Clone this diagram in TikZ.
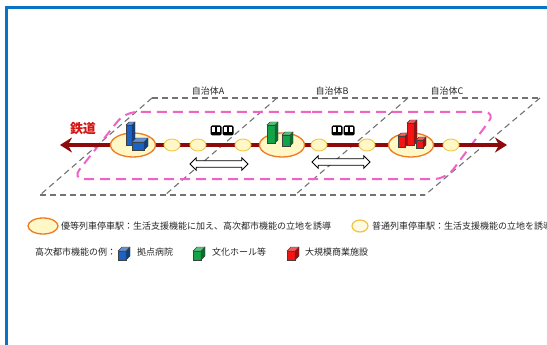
\documentclass[tikz,border=0pt]{standalone}
\usepackage{fontspec}
\newfontfamily\jpfont{Noto Sans CJK JP}
\usetikzlibrary{shapes.geometric,shapes.arrows,arrows.meta}
\definecolor{framblue}{HTML}{0A74C4}
\definecolor{zonepink}{HTML}{F062C8}
\definecolor{railred}{HTML}{8E0A0A}
\definecolor{tetsured}{HTML}{D41414}
\definecolor{storange}{HTML}{EE7A22}
\definecolor{styellow}{HTML}{F0C848}
\definecolor{stfill}{HTML}{FFF8C6}
\definecolor{bldblue}{HTML}{1A62C4}
\definecolor{bldgreen}{HTML}{12A548}
\definecolor{bldred}{HTML}{F51414}
\newcommand{\bldg}[6]{%
  \filldraw[draw=black!75, line width=.4pt, fill=#1] (#2,#3) rectangle ++(#4,-#5);
  \filldraw[draw=black!75, line width=.4pt, fill=#1!65!black] (#2+#4,#3) -- ++(#6,-#6) -- ++(0,-#5) -- ++(-#6,#6) -- cycle;
  \filldraw[draw=black!75, line width=.4pt, fill=#1!70!white] (#2,#3-#5) -- ++(#6,-#6) -- ++(#4,0) -- ++(-#6,#6) -- cycle;
}
\tikzset{
  densha/.pic={
    \foreach \dx in {-6,6}{
      \fill[black, rounded corners=1.5pt] (\dx-5.5,-5.5) rectangle (\dx+5.5,4.5);
      \fill[white] (\dx-4,-3.5) rectangle (\dx-0.6,0.8);
      \fill[white] (\dx+0.6,-3.5) rectangle (\dx+4,0.8);
    }
  }
}
\begin{document}
\begin{tikzpicture}[x=1pt,y=-1pt,
  lbl/.style={font=\jpfont\fontsize{9}{10}\selectfont, text=black!85, inner sep=0pt},
  grid/.style={draw=black!55, line width=1.1pt, dash pattern=on 6pt off 4pt},
  zone/.style={draw=zonepink, line width=2pt, dash pattern=on 10pt off 6pt, rounded corners=12pt},
  rail/.style={draw=railred, line width=3.2pt, {Stealth[length=12pt,width=15pt,inset=4pt]}-{Stealth[length=12pt,width=15pt,inset=4pt]}},
  majorst/.style={ellipse, draw=storange, line width=1.3pt, fill=stfill, minimum width=45pt, minimum height=24pt, inner sep=0pt},
  minorst/.style={ellipse, draw=styellow, line width=.9pt, fill=stfill, minimum width=16pt, minimum height=12pt, inner sep=0pt},
  dbl/.style={double arrow, draw=black, line width=.8pt, fill=white, inner xsep=0pt, inner ysep=2.8pt, minimum height=58pt, double arrow head extend=3pt}
]
\useasboundingbox (0,0) rectangle (547,345);
\clip (0,0) rectangle (547,345);
\draw[framblue, line width=3pt] (6.5,7.5) rectangle (600,400);

% municipalities
\draw[grid] (152,98) -- (540,98);
\draw[grid] (40,195) -- (425,195);
\foreach \t/\b in {152/40, 277/165, 408/295, 540/425}
  \draw[grid] (\t,98) -- (\b,195);
\node[lbl] (munA) at (208,91) {自治体A};
\node[lbl] (munB) at (332,91) {自治体B};
\node[lbl] (munC) at (447,91) {自治体C};

\draw[zone] (300,112) -- (496,112) -- (446,179) -- (72,179) -- (125,112) -- cycle;

% railway
\coordinate (railW) at (60,145);
\coordinate (railE) at (507,145);
\draw[rail] (railW) -- (railE);
\node[lbl, font=\jpfont\fontsize{13}{14}\selectfont\bfseries, text=tetsured] (tetsudo) at (83,129) {鉄道};

\node[majorst] (stA) at (133,145) {};
\node[majorst] (stB) at (282,145) {};
\node[majorst] (stC) at (411,145) {};
\node[minorst] (s1) at (172,145) {};
\node[minorst] (s2) at (198,145) {};
\node[minorst] (s3) at (243,145) {};
\node[minorst] (s4) at (319,145) {};
\node[minorst] (s5) at (367,145) {};
\node[minorst] (s6) at (451,145) {};

\pic at (222,131) {densha};
\pic at (343,131) {densha};
\node[dbl] (hopAB) at (219,164) {};
\node[dbl] (hopBC) at (341,162) {};

\bldg{bldblue}{126}{145}{6}{20}{3}
\bldg{bldblue}{132}{150}{12}{8}{4}
\bldg{bldgreen}{267}{143}{8}{18}{3}
\bldg{bldgreen}{282}{146}{8}{11}{3}
\bldg{bldred}{398}{147}{7}{11}{3}
\bldg{bldred}{407}{145}{7}{22}{3}
\bldg{bldred}{416}{148}{7}{8}{3}

% legend
\node[majorst, minimum width=30pt, minimum height=16pt] (kyMajor) at (43,226) {};
\node[lbl, anchor=west] (txMajor) at (61,226) {優等列車停車駅：生活支援機能に加え、高次都市機能の立地を誘導};
\node[minorst, draw=styellow!90!orange, line width=1.2pt, fill=stfill!50!white] (kyMinor) at (360,226) {};
\node[lbl, anchor=west] (txMinor) at (372,226) {普通列車停車駅：生活支援機能の立地を誘導};
\node[lbl, anchor=west] (txRei) at (35,252) {高次都市機能の例：};
\bldg{bldblue}{118}{260}{8}{9}{4}
\node[lbl, anchor=west] (txByoin) at (137,252) {拠点病院};
\bldg{bldgreen}{193}{260}{8}{9}{4}
\node[lbl, anchor=west] (txHall) at (212,252) {文化ホール等};
\bldg{bldred}{287}{260}{8}{9}{4}
\node[lbl, anchor=west] (txShop) at (305,252) {大規模商業施設};
\end{tikzpicture}
\end{document}
